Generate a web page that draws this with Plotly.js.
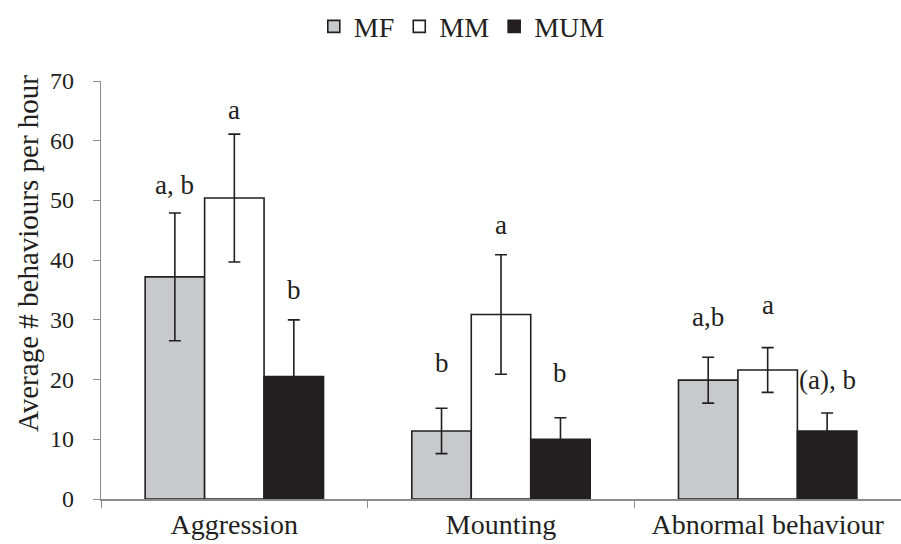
<!DOCTYPE html>
<html>
<head>
<meta charset="utf-8">
<script src="https://cdn.plot.ly/plotly-3.0.1.min.js"></script>
<style>html,body{margin:0;padding:0;background:#fff;}#chart{width:901px;height:544px;}</style>
</head>
<body>
<div id="chart"></div>
<script>
const categories = ["Aggression", "Mounting", "Abnormal behaviour"];
const seriesNames = ["MF", "MM", "MUM"];
const valuesMF = [37.2, 11.4, 19.9];
const valuesMM = [50.4, 30.9, 21.6];
const valuesMUM = [20.5, 10.0, 11.4];
const errorsMF = [10.7, 3.8, 3.85];
const errorsMM = [10.7, 10.0, 3.75];
const errorsMUM = [9.5, 3.6, 3.0];
const lettersMF = ["a, b", "b", "a,b"];
const lettersMM = ["a", "a", "a"];
const lettersMUM = ["b", "b", "(a), b"];
const letterYMF = [52.6, 22.8, 30.5];
const letterYMM = [65.2, 45.9, 32.5];
const letterYMUM = [35.0, 21.1, 19.9];
const yTicks = [0, 10, 20, 30, 40, 50, 60, 70];
const yTitle = "Average # behaviours per hour";

const ink = "#231f20";
const fills = ["#c8c9cb", "#ffffff", ink];
const values = [valuesMF, valuesMM, valuesMUM];
const errors = [errorsMF, errorsMM, errorsMUM];
const letters = [lettersMF, lettersMM, lettersMUM];
const letterY = [letterYMF, letterYMM, letterYMUM];
const font = "'Liberation Serif', 'Times New Roman', serif";

const margin = {l: 101, r: 0, t: 81, b: 45};
const plotW = 901 - margin.l - margin.r;
const bargap = 0.331;
const barPx = plotW / categories.length * (1 - bargap) / seriesNames.length;

const traces = seriesNames.map((name, i) => ({
  type: "bar",
  name: name,
  x: categories,
  y: values[i],
  marker: {color: fills[i], line: {color: ink, width: 1.6}},
  error_y: {type: "data", array: errors[i], visible: true, color: ink, thickness: 1.6, width: 6},
  hoverinfo: "skip"
}));

const annotations = [];
seriesNames.forEach((name, i) => {
  categories.forEach((c, j) => {
    annotations.push({
      x: c, y: letterY[i][j], xref: "x", yref: "y",
      xshift: (i - 1) * barPx,
      text: letters[i][j], showarrow: false,
      xanchor: "center", yanchor: "middle",
      font: {family: font, size: 27, color: ink}
    });
  });
});
// y tick labels, placed a little farther from the axis than Plotly's default
yTicks.forEach(v => {
  annotations.push({
    x: 0, y: v, xref: "paper", yref: "y", xshift: -25,
    text: String(v), showarrow: false,
    xanchor: "right", yanchor: "middle",
    font: {family: font, size: 24, color: ink}
  });
});
annotations.push({
  x: -0.09125, y: 0.586, xref: "paper", yref: "paper",
  text: yTitle, textangle: -90, showarrow: false,
  xanchor: "center", yanchor: "middle",
  font: {family: font, size: 29, color: ink}
});

const layout = {
  width: 901, height: 544,
  margin: margin,
  paper_bgcolor: "#ffffff", plot_bgcolor: "#ffffff",
  barmode: "group", bargap: bargap, bargroupgap: 0,
  showlegend: true,
  legend: {
    orientation: "h", x: 0.451, xanchor: "center", y: 1.13, yanchor: "middle",
    font: {family: font, size: 28, color: ink}, itemwidth: 30, tracegroupgap: 0,
    traceorder: "normal"
  },
  xaxis: {
    type: "category", tickson: "boundaries", ticks: "outside", ticklen: 7,
    tickcolor: "#8c8c8c", showline: true, linecolor: "#8c8c8c", linewidth: 1.5,
    showgrid: false, zeroline: false,
    tickfont: {family: font, size: 28, color: ink}, automargin: false
  },
  yaxis: {
    range: [0, 70], tickmode: "array", tickvals: yTicks, showticklabels: false,
    ticks: "outside", ticklen: 7,
    tickcolor: "#8c8c8c", showline: true, linecolor: "#8c8c8c", linewidth: 1.5,
    showgrid: false, zeroline: false,
    automargin: false
  },
  annotations: annotations,
  font: {family: font, color: ink}
};

Plotly.newPlot("chart", traces, layout, {staticPlot: true, displayModeBar: false});
</script>
</body>
</html>
